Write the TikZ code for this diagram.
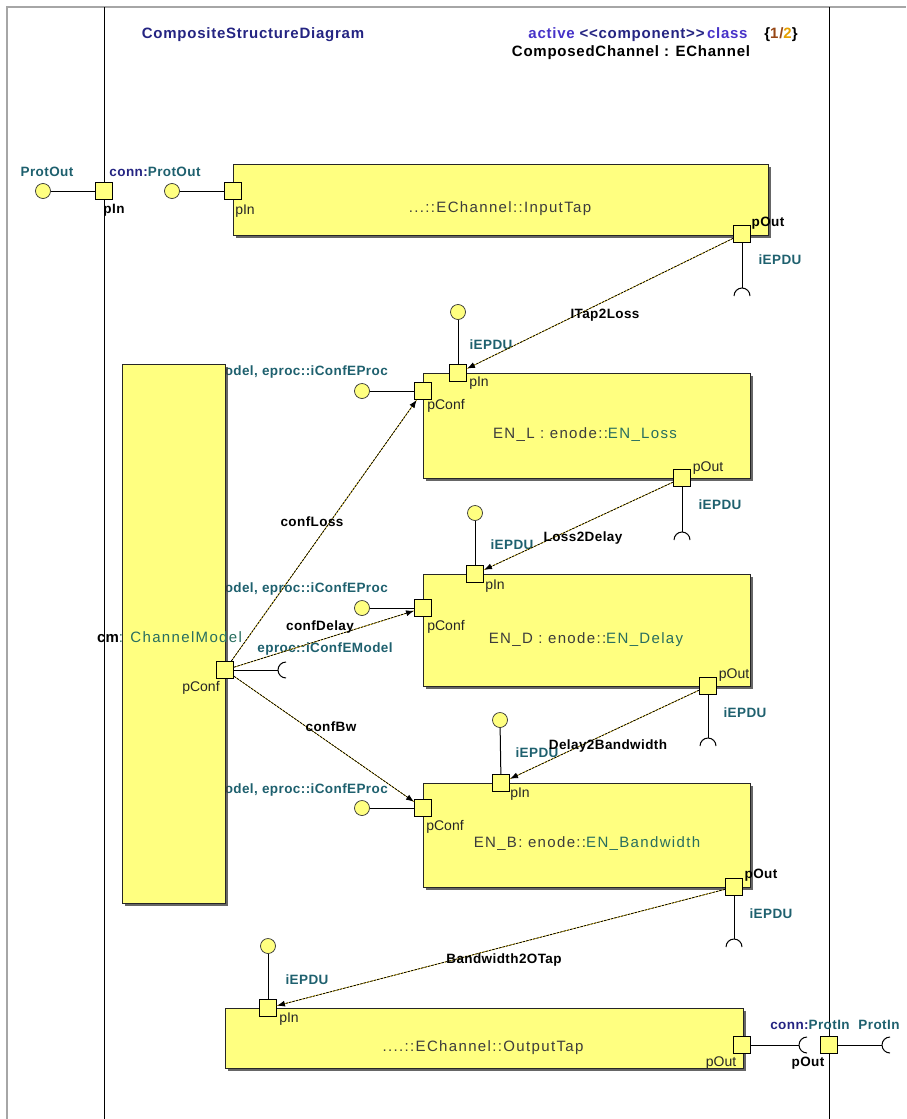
\documentclass[tikz,border=0pt]{standalone}
\usepackage{fontspec}
\setmainfont{Liberation Sans}
\newfontfamily\spacedfont[LetterSpace=9]{Liberation Sans}
\newfontfamily\labelfont[LetterSpace=3]{Liberation Sans}
\newfontfamily\headfont[LetterSpace=5]{Liberation Sans}
\usepackage{xcolor}
\usetikzlibrary{arrows.meta,shadows,calc,positioning}
\definecolor{portyellow}{RGB}{255,255,128}
\definecolor{tealtext}{RGB}{30,96,110}
\definecolor{navytext}{RGB}{36,36,130}
\definecolor{violettext}{RGB}{70,50,200}
\definecolor{titlegray}{RGB}{60,60,60}
\definecolor{titleteal}{RGB}{40,110,95}
\definecolor{fracbrown}{RGB}{150,70,20}
\definecolor{fracorange}{RGB}{230,160,0}
\tikzset{
    block/.style={draw=black!85, fill=portyellow, line width=0.9pt, anchor=north west,
        inner sep=0pt, drop shadow={shadow xshift=2.5pt, shadow yshift=-2.5pt, fill=black!75, opacity=0.8}},
    port/.style={draw=black, fill=portyellow, minimum size=17pt, inner sep=0pt, line width=0.9pt},
    lolli/.style={circle, draw=black!80, fill=portyellow, minimum size=15pt, inner sep=0pt, line width=0.7pt},
    stub/.style={draw=black, line width=1pt},
    conn/.style={dash pattern=on 2.5pt off 1pt, line width=0.8pt, -{Latex[length=8pt,width=6pt]},
        preaction={draw=yellow!70!orange, solid, line width=0.6pt, -}},
    title/.style={font={\spacedfont\fontsize{15}{17}\selectfont}, text=titlegray, inner sep=0pt},
    plbl/.style={font={\fontsize{14}{16}\selectfont}, text=black!85, inner sep=0pt},
    blbl/.style={font={\labelfont\bfseries\fontsize{13.5}{16}\selectfont}, text=black, inner sep=0pt},
    tlbl/.style={blbl, text=tealtext},
    hdr/.style={font={\headfont\bfseries\fontsize{15}{17}\selectfont}, inner sep=0pt},
}
\begin{document}
\begin{tikzpicture}[x=1pt,y=-1pt]
    \useasboundingbox (0,0) rectangle (906,1119);

    % Draw frame.
    \draw[gray!70, line width=2.5pt] (906,7) -- (7,7) -- (7,1119);
    \foreach \X in {104,829}
        \draw[line width=0.8pt] (\X,7) -- (\X,1119);

    % Header texts.
    \node[hdr, text=navytext] (diagname) at (253,35) {CompositeStructureDiagram};
    \node[hdr] (stereo) at (638,35) {\textcolor{violettext}{active} \textcolor{navytext}{<{}<component>{}>}\,\textcolor{violettext}{class}};
    \node[hdr] (pageno) at (781,35) {\{\textcolor{fracbrown}{1/}\textcolor{fracorange}{2}\}};
    \node[hdr, text=black] (classname) at (631,53) {ComposedChannel : EChannel};

    % Frame port on the left.
    \node[port] (frpin) at (104,191) {};
    \node[lolli] (frlol) at (43,191) {};
    \draw[stub] (frlol) -- (frpin);
    \node[tlbl] (frlolname) at (47,172) {ProtOut};
    \node[blbl] (frpinname) at (155,172) {\textcolor{navytext}{conn:}\textcolor{tealtext}{ProtOut}};
    \node[blbl] (frpinlbl) at (114,210) {pIn};

    % Input tap.
    \node[block, minimum width=535pt, minimum height=71pt] (intap) at (233,164) {};
    \node[title] (intaptitle) at (500,209) {...::EChannel::InputTap};
    \node[port] (inpin) at (233,191) {};
    \node[lolli] (inlol) at (172,191) {};
    \draw[stub] (inlol) -- (inpin);
    \node[plbl] (inpinlbl) at (245,211) {pIn};
    \node[port] (inpout) at (742,234) {};
    \coordinate (insock) at (742,288);
    \draw[stub] (inpout.south) -- (insock);
    \draw[stub] (insock) ++(-8,8) arc[start angle=180, end angle=360, radius=8];
    \node[blbl] (inpoutlbl) at (768,223) {pOut};
    \node[tlbl] (inpoutif) at (780,260) {iEPDU};

    % Config interface labels, partly hidden by the channel model.
    \foreach \n/\y in {l/372,d/589,b/790}
        \node[tlbl, anchor=east] (\n cfgname) at (388,\y) {\textcolor{black}{cm} : ChannelModel, eproc::iConfEProc};

    % Channel model.
    \node[block, minimum width=103pt, minimum height=539pt] (cmblk) at (122,364) {};
    \node[title, anchor=west] (cmtitle) at (97,637) {\normalfont\bfseries\textcolor{black}{cm}\spacedfont\mdseries\textcolor{titleteal}{ : ChannelModel}};
    \node[port] (cmconf) at (225,670) {};
    \node[plbl] (cmconflbl) at (201,688) {pConf};
    \coordinate (cmsock) at (278,670);
    \draw[stub] (cmconf.east) -- (cmsock);
    \draw[stub] (cmsock) ++(8,8) arc[start angle=90, end angle=270, radius=8];
    \node[tlbl] (cmconfif) at (325,649) {eproc::iConfEModel};

    % Loss node.
    \node[block, minimum width=327pt, minimum height=105pt] (enl) at (423,373) {};
    \node[title] (enltitle) at (585,435) {EN\_L : enode::\textcolor{titleteal}{EN\_Loss}};
    \node[port] (lpin) at (458,373) {};
    \node[lolli] (lpinlol) at (458,312) {};
    \draw[stub] (lpinlol) -- (lpin);
    \node[plbl] (lpinlbl) at (479,383) {pIn};
    \node[tlbl] (lpinif) at (491,345) {iEPDU};
    \node[port] (lconf) at (423,391) {};
    \node[lolli] (lconflol) at (362,391) {};
    \draw[stub] (lconflol) -- (lconf);
    \node[plbl] (lconflbl) at (446,406) {pConf};
    \node[port] (lpout) at (682,478) {};
    \coordinate (lsock) at (682,532);
    \draw[stub] (lpout.south) -- (lsock);
    \draw[stub] (lsock) ++(-8,8) arc[start angle=180, end angle=360, radius=8];
    \node[plbl] (lpoutlbl) at (708,468) {pOut};
    \node[tlbl] (lpoutif) at (720,505) {iEPDU};

    % Delay node.
    \node[block, minimum width=327pt, minimum height=112pt] (end) at (423,574) {};
    \node[title] (endtitle) at (586,640) {EN\_D : enode::\textcolor{titleteal}{EN\_Delay}};
    \node[port] (dpin) at (475,574) {};
    \node[lolli] (dpinlol) at (475,513) {};
    \draw[stub] (dpinlol) -- (dpin);
    \node[plbl] (dpinlbl) at (495,586) {pIn};
    \node[tlbl] (dpinif) at (512,545) {iEPDU};
    \node[port] (dconf) at (423,608) {};
    \node[lolli] (dconflol) at (362,608) {};
    \draw[stub] (dconflol) -- (dconf);
    \node[plbl] (dconflbl) at (446,627) {pConf};
    \node[port] (dpout) at (708,686) {};
    \coordinate (dsock) at (708,738);
    \draw[stub] (dpout.south) -- (dsock);
    \draw[stub] (dsock) ++(-8,8) arc[start angle=180, end angle=360, radius=8];
    \node[plbl] (dpoutlbl) at (734,675) {pOut};
    \node[tlbl] (dpoutif) at (745,713) {iEPDU};

    % Bandwidth node.
    \node[block, minimum width=327pt, minimum height=104pt] (enb) at (423,783) {};
    \node[title] (enbtitle) at (587,844) {EN\_B: enode::\textcolor{titleteal}{EN\_Bandwidth}};
    \node[port] (bpin) at (501,783) {};
    \node[lolli] (bpinlol) at (500,720) {};
    \draw[stub] (bpinlol) -- (bpin);
    \node[plbl] (bpinlbl) at (520,794) {pIn};
    \node[tlbl] (bpinif) at (537,753) {iEPDU};
    \node[port] (bconf) at (423,808) {};
    \node[lolli] (bconflol) at (362,808) {};
    \draw[stub] (bconflol) -- (bconf);
    \node[plbl] (bconflbl) at (445,827) {pConf};
    \node[port] (bpout) at (734,887) {};
    \coordinate (bsock) at (734,939);
    \draw[stub] (bpout.south) -- (bsock);
    \draw[stub] (bsock) ++(-8,8) arc[start angle=180, end angle=360, radius=8];
    \node[blbl] (bpoutlbl) at (761,875) {pOut};
    \node[tlbl] (bpoutif) at (771,914) {iEPDU};

    % Output tap.
    \node[block, minimum width=518pt, minimum height=60pt] (outtap) at (225,1008) {};
    \node[title] (outtaptitle) at (483,1048) {....::EChannel::OutputTap};
    \node[port] (opin) at (268,1008) {};
    \node[lolli] (opinlol) at (268,946) {};
    \draw[stub] (opinlol) -- (opin);
    \node[plbl] (opinlbl) at (289,1019) {pIn};
    \node[tlbl] (opinif) at (307,980) {iEPDU};
    \node[port] (opout) at (742,1045) {};
    \node[plbl] (opoutlbl) at (721,1063) {pOut};
    \coordinate (osock) at (799,1045);
    \draw[stub] (opout.east) -- (osock);
    \draw[stub] (osock) ++(8,8) arc[start angle=90, end angle=270, radius=8];

    % Frame port on the right.
    \node[port] (frpout) at (829,1045) {};
    \coordinate (frsock) at (882,1045);
    \draw[stub] (frpout.east) -- (frsock);
    \draw[stub] (frsock) ++(8,8) arc[start angle=90, end angle=270, radius=8];
    \node[blbl] (frpoutname) at (810,1025) {\textcolor{navytext}{conn:}\textcolor{tealtext}{ProtIn}};
    \node[tlbl] (frsockname) at (879,1025) {ProtIn};
    \node[blbl] (frpoutlbl) at (808,1063) {pOut};

    % Connectors between the ports.
    \draw[conn] (inpout) -- (lpin);
    \draw[conn] (lpout) -- (dpin);
    \draw[conn] (dpout) -- (bpin);
    \draw[conn] (bpout) -- (opin);
    \draw[conn] (cmconf) -- (lconf);
    \draw[conn] (cmconf) -- (dconf);
    \draw[conn] (cmconf) -- (bconf);
    \node[blbl] (tap2loss) at (605,315) {ITap2Loss};
    \node[blbl] (loss2delay) at (583,538) {Loss2Delay};
    \node[blbl] (delay2bw) at (608,746) {Delay2Bandwidth};
    \node[blbl] (bw2otap) at (504,960) {Bandwidth2OTap};
    \node[blbl] (confloss) at (312,522) {confLoss};
    \node[blbl] (confdelay) at (320,627) {confDelay};
    \node[blbl] (confbw) at (331,727) {confBw};
\end{tikzpicture}
\end{document}
